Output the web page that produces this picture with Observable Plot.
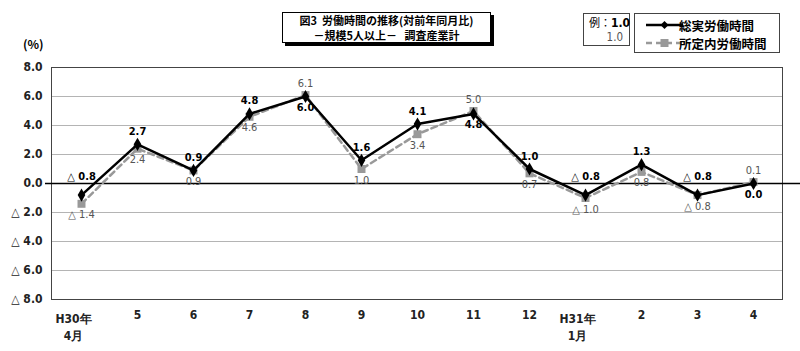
<!DOCTYPE html>
<html><head><meta charset="utf-8">
<script src="https://cdn.jsdelivr.net/npm/d3@7"></script>
<script src="https://cdn.jsdelivr.net/npm/@observablehq/plot@0.6"></script>
<style>
body{margin:0;background:#fff;}
#wrap{position:relative;width:800px;height:351px;overflow:hidden;font-family:"Noto Sans CJK JP",sans-serif;}
.num{font-family:"Liberation Sans Narrow","DejaVu Sans Condensed","Liberation Sans",sans-serif;}
#title{position:absolute;left:282px;top:12px;width:207px;height:29px;border:1.5px solid #000;box-shadow:3px 3px 0 #000;background:#fff;text-align:center;font-size:11px;font-weight:bold;line-height:14.5px;padding-top:0px;box-sizing:content-box;white-space:nowrap;}
#ex{position:absolute;left:583px;top:13px;width:45px;height:31px;border:1px solid #444;background:#fff;font-size:11px;white-space:nowrap;}
#lg{position:absolute;left:634px;top:13px;width:144px;height:38px;border:1px solid #444;background:#fff;font-size:12.5px;font-weight:bold;white-space:nowrap;}
#pct{position:absolute;left:23px;top:35px;font-size:12px;font-weight:bold;}
</style></head>
<body><div id="wrap">
<div id="chart"></div>
<div id="pct">(%)</div>
<div id="title"><div>図3&nbsp; 労働時間の推移(対前年同月比)</div><div>－規模5人以上－&nbsp;&nbsp; 調査産業計</div></div>
<div id="ex"><div style="position:absolute;left:5px;top:2px;line-height:13px;">例：<b class="num" style="font-size:12px">1.0</b></div><div class="num" style="position:absolute;right:6px;top:17px;line-height:12px;color:#555;font-size:11.5px">1.0</div></div>
<div id="lg">
<svg width="44" height="38" style="position:absolute;left:8px;top:0">
<line x1="3" y1="11" x2="40" y2="11" stroke="#000" stroke-width="2.5"/><path d="M21.5 7 L25.5 11 L21.5 15 L17.5 11 Z" fill="#000"/>
<line x1="3" y1="29" x2="40" y2="29" stroke="#999" stroke-width="2.5" stroke-dasharray="6,4"/><rect x="17.5" y="25" width="8" height="8" fill="#999"/>
</svg>
<div style="position:absolute;left:44px;top:2px;">総実労働時間</div>
<div style="position:absolute;left:44px;top:20px;">所定内労働時間</div>
</div>
</div>
<script>
const months = ["H30年\n4月","5","6","7","8","9","10","11","12","H31年\n1月","2","3","4"];
const totalHours = [-0.8, 2.7, 0.9, 4.8, 6.0, 1.6, 4.1, 4.8, 1.0, -0.8, 1.3, -0.8, 0.0];
const scheduledHours = [-1.4, 2.4, 0.9, 4.6, 6.1, 1.0, 3.4, 5.0, 0.7, -1.0, 0.8, -0.8, 0.1];
const yTicks = [-8, -6, -4, -2, 0, 2, 4, 6, 8];

const rows = months.map((m, i) => ({m, total: totalHours[i], sched: scheduledHours[i], blackAbove: totalHours[i] >= scheduledHours[i]}));
const fmt = v => v < 0 ? "△ " + (-v).toFixed(1) : v.toFixed(1);
const numFont = "Liberation Sans Narrow, DejaVu Sans Condensed, Liberation Sans, sans-serif";
const single = months.filter(m => !m.includes("\n"));
const multi = months.filter(m => m.includes("\n"));
const aboveNeg = rows.filter(d => d.blackAbove && d.total < 0);
const abovePos = rows.filter(d => d.blackAbove && d.total >= 0);

const chart = Plot.plot({
  width: 800, height: 351,
  marginTop: 67, marginBottom: 52, marginLeft: 51, marginRight: 18,
  style: {fontFamily: numFont, background: "transparent"},
  x: {type: "point", domain: months, padding: 0.5, axis: null, label: null},
  y: {domain: [-8, 8], axis: null, label: null},
  marks: [
    Plot.ruleY(yTicks.filter(d => d !== 0), {stroke: "#b4b4b4", strokeWidth: 1}),
    Plot.frame({stroke: "#444", strokeWidth: 1}),
    Plot.ruleY([0], {stroke: "#000", strokeWidth: 1.5, insetLeft: -6, insetRight: -18}),
    Plot.line(rows, {x: "m", y: "sched", stroke: "#999", strokeWidth: 2.5, strokeDasharray: "6,4"}),
    Plot.dot(rows, {x: "m", y: "sched", symbol: "square", fill: "#999", r: 4.5}),
    Plot.line(rows, {x: "m", y: "total", stroke: "#000", strokeWidth: 2.5}),
    Plot.dot(rows, {x: "m", y: "total", symbol: "diamond", fill: "#000", r: 4}),
    Plot.text(abovePos, {x: "m", y: "total", text: d => fmt(d.total), dy: -13, fontWeight: "bold", fontSize: 11, fill: "#000"}),
    Plot.text(aboveNeg, {x: "m", y: "total", text: d => fmt(d.total), dy: -19, fontWeight: "bold", fontSize: 11, fill: "#000"}),
    Plot.text(rows.filter(d => !d.blackAbove), {x: "m", y: "total", text: d => fmt(d.total), dy: 11, fontWeight: "bold", fontSize: 11, fill: "#000"}),
    Plot.text(rows.filter(d => d.blackAbove), {x: "m", y: "sched", text: d => fmt(d.sched), dy: 11, fontSize: 11, fill: "#555"}),
    Plot.text(rows.filter(d => !d.blackAbove), {x: "m", y: "sched", text: d => fmt(d.sched), dy: -12, fontSize: 11, fill: "#555"}),
    Plot.axisY({ticks: yTicks, tickFormat: fmt, tickSize: 0, tickPadding: 9, fontSize: 12, fontWeight: "bold", fill: "#222", label: null}),
    Plot.axisX({ticks: single, tickSize: 0, tickPadding: 11, fontSize: 12, fontWeight: "bold", fill: "#222", label: null}),
    Plot.axisX({ticks: multi, tickSize: 0, tickPadding: 11, fontSize: 12, fontWeight: "bold", fill: "#222", lineHeight: 1.45, dx: -8, label: null})
  ]
});
document.getElementById("chart").appendChild(chart);
</script>
</body></html>
